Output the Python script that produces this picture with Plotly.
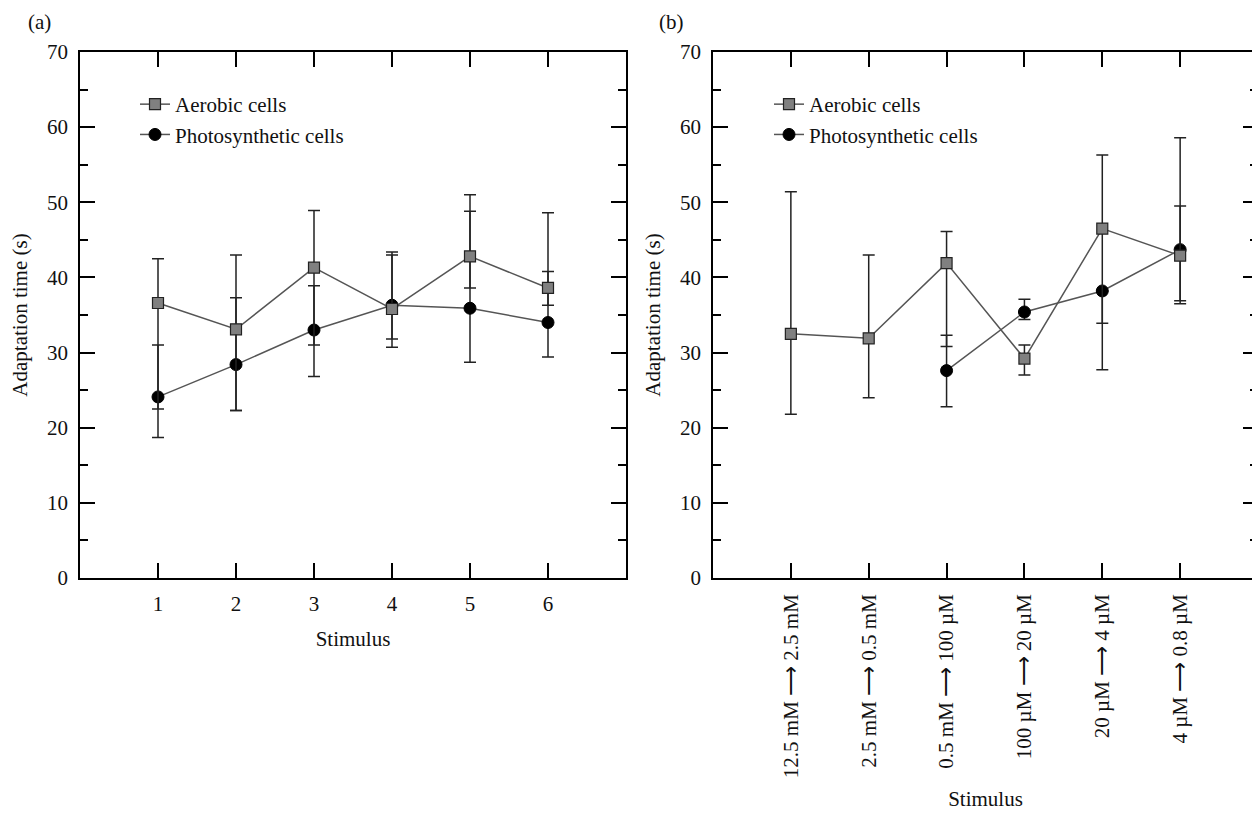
import plotly.graph_objects as go

# ---------------- data ----------------
stim_a = [1, 2, 3, 4, 5, 6]
aer_a = [36.6, 33.1, 41.3, 35.8, 42.8, 38.6]
aer_a_plus = [5.9, 9.9, 7.6, 7.6, 8.2, 10.0]
aer_a_minus = [14.1, 10.8, 10.3, 4.0, 4.2, 2.3]
pho_a = [24.1, 28.4, 33.0, 36.3, 35.9, 34.0]
pho_a_plus = [6.9, 8.9, 5.9, 6.7, 12.9, 6.8]
pho_a_minus = [5.4, 6.1, 6.2, 5.6, 7.2, 4.6]

stim_b = [1, 2, 3, 4, 5, 6]
stim_b_labels = ["12.5 mM ⟶ 2.5 mM", "2.5 mM ⟶ 0.5 mM", "0.5 mM ⟶ 100 µM",
                 "100 µM ⟶ 20 µM", "20 µM ⟶ 4 µM", "4 µM ⟶ 0.8 µM"]
aer_b = [32.5, 31.9, 41.9, 29.2, 46.5, 42.9]
aer_b_plus = [18.9, 11.1, 4.2, 1.8, 9.8, 6.6]
aer_b_minus = [10.7, 7.9, 11.1, 2.2, 18.8, 6.0]
pho_b = [None, None, 27.6, 35.4, 38.2, 43.7]
pho_b_plus = [None, None, 4.7, 1.7, 0.0, 14.9]
pho_b_minus = [None, None, 4.8, 1.0, 4.3, 7.2]

FONT = "Liberation Serif"
LINE_COL = "#555555"
ERR_COL = "#222222"
TXT = "#111111"

fig = go.Figure()

def add_pair(xs, aer, ap, am, pho, pp, pm, xa, ya, legend):
    fig.add_trace(go.Scatter(
        x=xs, y=pho, mode="lines+markers", name="Photosynthetic cells",
        xaxis=xa, yaxis=ya, legend=legend, legendrank=2,
        line=dict(color=LINE_COL, width=1.5),
        marker=dict(symbol="circle", size=12, color="black",
                    line=dict(color="black", width=1)),
        error_y=dict(type="data", symmetric=False, array=pp, arrayminus=pm,
                     color=ERR_COL, thickness=1.5, width=6),
    ))
    fig.add_trace(go.Scatter(
        x=xs, y=aer, mode="lines+markers", name="Aerobic cells",
        xaxis=xa, yaxis=ya, legend=legend, legendrank=1,
        line=dict(color=LINE_COL, width=1.5),
        marker=dict(symbol="square", size=11, color="#808080",
                    line=dict(color="#222222", width=1.2)),
        error_y=dict(type="data", symmetric=False, array=ap, arrayminus=am,
                     color=ERR_COL, thickness=1.5, width=6),
    ))

add_pair(stim_a, aer_a, aer_a_plus, aer_a_minus, pho_a, pho_a_plus, pho_a_minus,
         "x", "y", "legend")
add_pair(stim_b, aer_b, aer_b_plus, aer_b_minus, pho_b, pho_b_plus, pho_b_minus,
         "x2", "y2", "legend2")

# page has an 8px body margin; figure sized to fit the 1260x814 window
OFF = 8
W, H = 1260 - OFF, 814 - OFF
px = lambda v: (v - OFF) / W
py = lambda v: (H - (v - OFF)) / H

ydom = [py(578), py(52)]

axis_common = dict(showline=True, linecolor="black", linewidth=1.5, mirror="ticks",
                   ticks="inside", tickcolor="black", tickwidth=1.5, ticklen=15,
                   showgrid=False, zeroline=False, automargin=False,
                   ticklabelstandoff=6,
                   tickfont=dict(family=FONT, size=21, color=TXT))

yaxis_common = dict(axis_common, range=[0, 70], tick0=0, dtick=10,
                    minor=dict(ticks="inside", dtick=5, ticklen=8, tickcolor="black",
                               tickwidth=1.5, showgrid=False),
                    domain=ydom)

title_font = dict(family=FONT, size=21, color=TXT)

fig.update_layout(
    template="none",
    width=W, height=H, margin=dict(l=0, r=0, t=0, b=0, autoexpand=False),
    paper_bgcolor="white", plot_bgcolor="white",
    font=dict(family=FONT, size=21, color=TXT),
    xaxis=dict(axis_common, domain=[px(80), px(626)], range=[0, 7],
               tickvals=stim_a, ticktext=[str(s) for s in stim_a],
               title=dict(text="Stimulus", font=title_font, standoff=16),
               anchor="y"),
    yaxis=dict(yaxis_common, anchor="x",
               title=dict(text="Adaptation time (s)", font=title_font, standoff=14)),
    xaxis2=dict(axis_common, domain=[px(713), px(1258)], range=[0, 7],
                tickvals=stim_b, ticktext=stim_b_labels, tickangle=-90,
                title=dict(text="Stimulus", font=title_font, standoff=14),
                anchor="y2"),
    yaxis2=dict(yaxis_common, anchor="x2",
                title=dict(text="Adaptation time (s)", font=title_font, standoff=14)),
    legend=dict(x=px(135), y=py(84), xanchor="left", yanchor="top",
                bgcolor="rgba(0,0,0,0)", itemwidth=30, tracegroupgap=0,
                font=dict(family=FONT, size=21, color=TXT)),
    legend2=dict(x=px(769), y=py(84), xanchor="left", yanchor="top",
                 bgcolor="rgba(0,0,0,0)", itemwidth=30, tracegroupgap=0,
                 font=dict(family=FONT, size=21, color=TXT)),
    annotations=[
        dict(text="(a)", x=px(26), y=py(8), xref="paper", yref="paper",
             xanchor="left", yanchor="top", showarrow=False,
             font=dict(family=FONT, size=21, color=TXT)),
        dict(text="(b)", x=px(657), y=py(8), xref="paper", yref="paper",
             xanchor="left", yanchor="top", showarrow=False,
             font=dict(family=FONT, size=21, color=TXT)),
    ],
)

fig.write_html("out.html")
